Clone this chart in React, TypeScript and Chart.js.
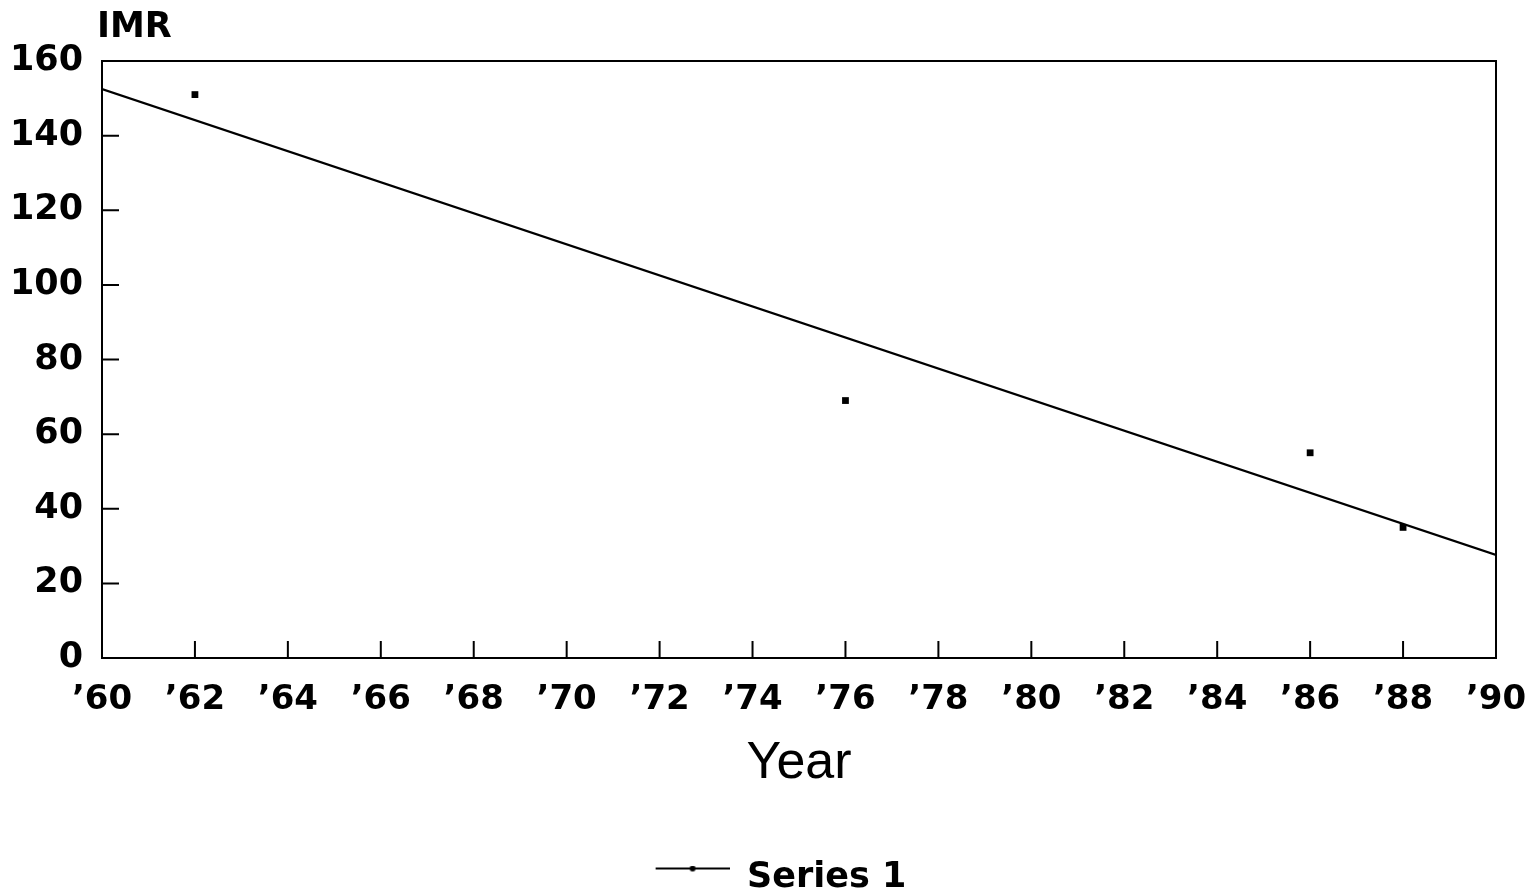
import React, { useEffect, useRef } from "react";
import { Chart, registerables } from "chart.js";

Chart.register(...registerables);

// ---- data ----
const years = [1962, 1976, 1986, 1988];
const imr = [151, 69, 55, 35];
const trendYears = [1960, 1990];
const trendImr = [152.5, 27.6];
const xTickValues = [1960, 1962, 1964, 1966, 1968, 1970, 1972, 1974, 1976, 1978, 1980, 1982, 1984, 1986, 1988, 1990];
const xTickLabels = ["\u201960", "\u201962", "\u201964", "\u201966", "\u201968", "\u201970", "\u201972", "\u201974", "\u201976", "\u201978", "\u201980", "\u201982", "\u201984", "\u201986", "\u201988", "\u201990"];
const yTickValues = [0, 20, 40, 60, 80, 100, 120, 140, 160];
const yTickLabels = ["0", "20", "40", "60", "80", "100", "120", "140", "160"];
const seriesName = "Series 1";
const yAxisLabel = "IMR";
const xAxisLabel = "Year";

const TICK_FONT = "'DejaVu Sans', sans-serif";
const ICON_SHIFT = 29;
const LEGEND_H = 36;

function makeLegendIcon(): HTMLCanvasElement {
  const c = document.createElement("canvas");
  c.width = 74 + ICON_SHIFT;
  c.height = 24;
  const ctx = c.getContext("2d")!;
  ctx.strokeStyle = "#000";
  ctx.lineWidth = 2;
  ctx.beginPath();
  ctx.moveTo(ICON_SHIFT, 3);
  ctx.lineTo(ICON_SHIFT + 74, 3);
  ctx.stroke();
  ctx.fillStyle = "#000";
  ctx.beginPath();
  ctx.arc(ICON_SHIFT + 37, 3, 3, 0, Math.PI * 2);
  ctx.fill();
  return c;
}

const framePlugin = {
  id: "frame",
  afterDraw(chart: any) {
    const { ctx, chartArea, scales } = chart;
    const { left, right, top, bottom } = chartArea;
    ctx.save();
    ctx.strokeStyle = "#000";
    ctx.lineWidth = 2;
    ctx.strokeRect(left, top, right - left, bottom - top);
    ctx.beginPath();
    xTickValues.forEach((v) => {
      const px = scales.x.getPixelForValue(v);
      ctx.moveTo(px, bottom);
      ctx.lineTo(px, bottom - 17);
    });
    yTickValues.forEach((v) => {
      const py = scales.y.getPixelForValue(v);
      ctx.moveTo(left, py);
      ctx.lineTo(left + 17, py);
    });
    ctx.stroke();
    ctx.fillStyle = "#000";
    ctx.font = `bold 35px ${TICK_FONT}`;
    ctx.textAlign = "left";
    ctx.textBaseline = "alphabetic";
    ctx.fillText(yAxisLabel, left - 5, top - 24);
    ctx.restore();
  },
};

export default function App() {
  const ref = useRef<HTMLCanvasElement | null>(null);

  useEffect(() => {
    if (!ref.current) return;
    const icon = makeLegendIcon();
    const chart = new Chart(ref.current, {
      type: "scatter",
      data: {
        datasets: [
          {
            label: seriesName,
            data: years.map((x, i) => ({ x, y: imr[i] })),
            pointStyle: "rect",
            pointRadius: 4.8,
            backgroundColor: "#000",
            borderColor: "#000",
            borderWidth: 0,
            showLine: false,
          },
          {
            label: "trend",
            data: trendYears.map((x, i) => ({ x, y: trendImr[i] })),
            showLine: true,
            pointRadius: 0,
            borderColor: "#000",
            borderWidth: 2.2,
            backgroundColor: "#000",
          },
        ],
      },
      options: {
        animation: false,
        responsive: true,
        maintainAspectRatio: false,
        layout: { padding: { left: 0, right: 0, top: 61, bottom: 0 } },
        plugins: {
          tooltip: { enabled: false },
          title: { display: false },
          legend: {
            display: true,
            position: "bottom",
            maxHeight: LEGEND_H,
            labels: {
              usePointStyle: true,
              pointStyleWidth: 74 + ICON_SHIFT,
              color: "#000",
              padding: 0,
              font: { family: TICK_FONT, size: 35, weight: "bold", lineHeight: 1 },
              generateLabels: () => [
                {
                  text: seriesName,
                  pointStyle: icon,
                  fillStyle: "#000",
                  strokeStyle: "#000",
                  lineWidth: 0,
                  hidden: false,
                  datasetIndex: 0,
                  fontColor: "#000",
                } as any,
              ],
            },
          },
        },
        scales: {
          x: {
            type: "linear",
            min: 1960,
            max: 1990,
            afterBuildTicks: (scale: any) => {
              scale.ticks = xTickValues.map((v) => ({ value: v }));
            },
            afterFit: (scale: any) => {
              const legendH = scale.chart.legend ? scale.chart.legend.height : LEGEND_H;
              scale.height = 896 - 658 - legendH;
              scale.paddingRight = 37;
            },
            ticks: {
              color: "#000",
              padding: 22,
              maxRotation: 0,
              autoSkip: false,
              font: { family: TICK_FONT, size: 34, weight: "bold" },
              callback: (v: any) => {
                const i = xTickValues.indexOf(Number(v));
                return i >= 0 ? xTickLabels[i] : "";
              },
            },
            grid: { display: false, drawTicks: false },
            border: { display: false },
            title: {
              display: true,
              text: xAxisLabel,
              color: "#000",
              font: { family: "'Liberation Sans', Arial, sans-serif", size: 52 },
              padding: { top: 0, bottom: 65 },
            },
          },
          y: {
            type: "linear",
            min: 0,
            max: 160,
            afterBuildTicks: (scale: any) => {
              scale.ticks = yTickValues.map((v) => ({ value: v }));
            },
            afterFit: (scale: any) => {
              scale.width = 102;
            },
            ticks: {
              color: "#000",
              padding: 19,
              autoSkip: false,
              font: { family: TICK_FONT, size: 35, weight: "bold" },
              callback: (v: any) => {
                const i = yTickValues.indexOf(Number(v));
                return i >= 0 ? yTickLabels[i] : "";
              },
            },
            grid: { display: false, drawTicks: false },
            border: { display: false },
          },
        },
      },
      plugins: [framePlugin],
    });
    return () => chart.destroy();
  }, []);

  return (
    <div style={{ position: "fixed", left: 0, top: 0, width: 1533, height: 896, background: "#fff" }}>
      <canvas ref={ref} />
    </div>
  );
}
